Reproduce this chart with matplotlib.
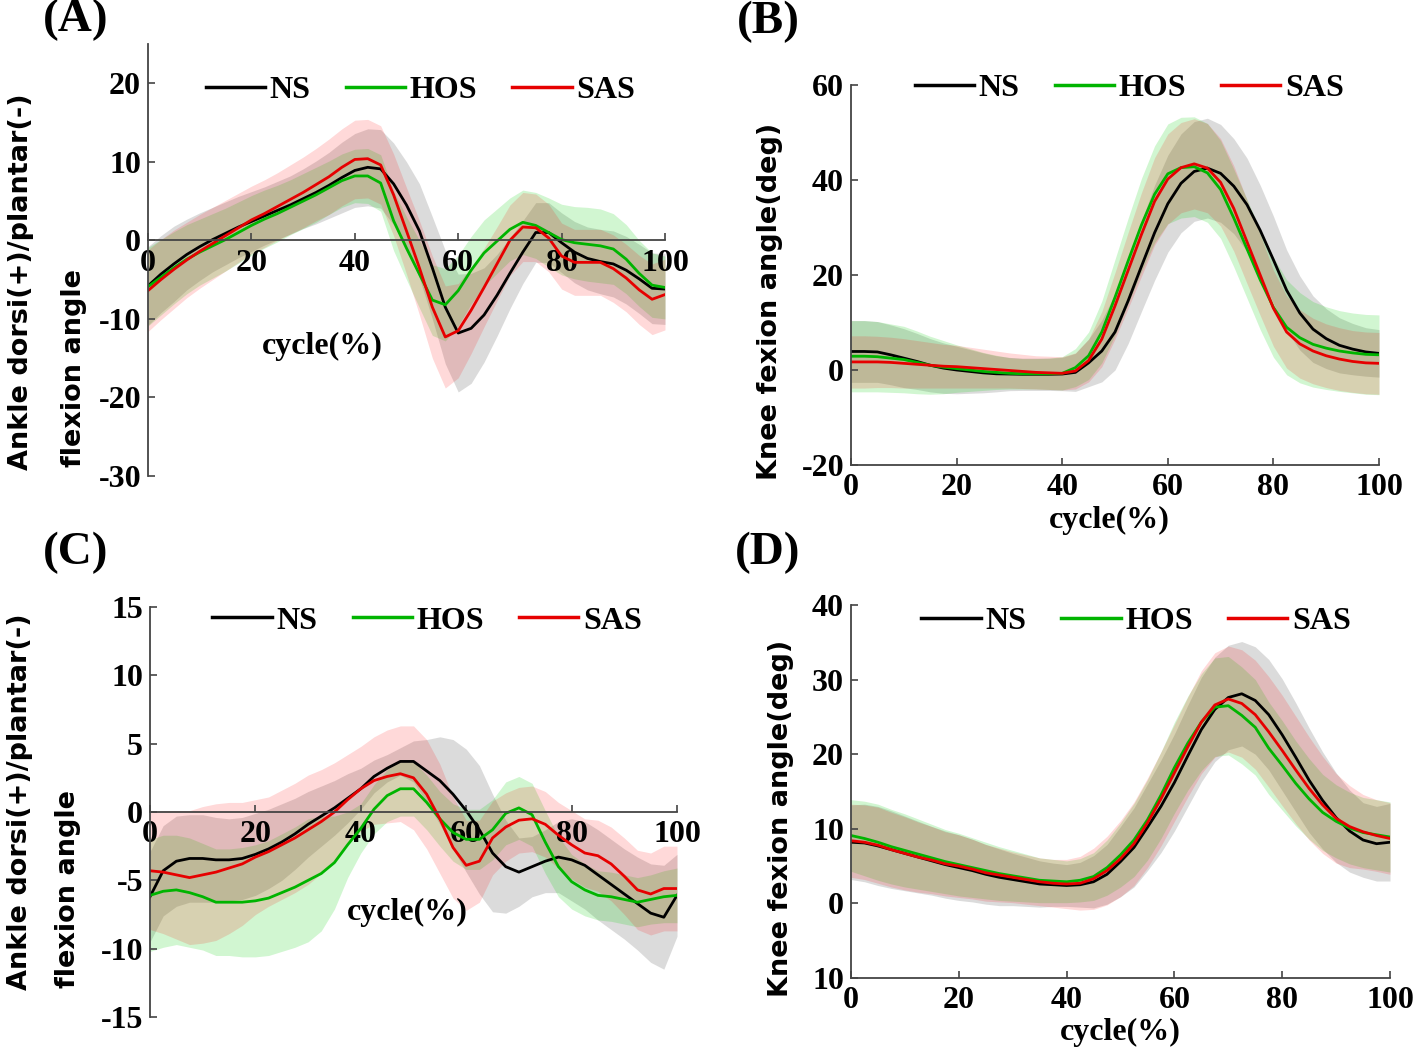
import matplotlib.pyplot as plt
import numpy as np

# gait cycle sampling (% of cycle)
cycle = np.arange(0, 100.1, 2.5)

groups = ['NS', 'HOS', 'SAS']
line_colors = ['#000000', '#00b400', '#e60000']
band_colors = ['#7f7f7f', '#00d000', '#ff0000']
band_alpha = [0.28, 0.18, 0.15]

# (A) ankle angle, mean and SD
ankle_a_ns = [-5.8, -4.3, -3.0, -1.8, -0.8, 0.1, 0.9, 1.7, 2.4, 3.1, 3.8, 4.5, 5.3, 6.1, 7.0, 8.0, 8.9, 9.3, 9.1, 7.2,
              4.5, 1.2, -3.5, -8.5, -11.8, -11.2, -9.5, -7.0, -4.2, -1.5, 1.0, 1.0, -0.3, -1.5, -2.3, -2.7, -3.0, -3.8,
              -4.9, -6.1, -6.2]
ankle_a_hos = [-5.9, -4.7, -3.5, -2.4, -1.5, -0.7, 0.1, 1.0, 1.9, 2.7, 3.4, 4.2, 5.0, 5.8, 6.7, 7.6, 8.2, 8.2, 7.3, 2.5,
               -1.0, -4.3, -7.6, -8.2, -6.4, -3.8, -1.6, -0.1, 1.4, 2.3, 1.9, 1.0, 0.1, -0.3, -0.5, -0.7, -1.1, -2.4,
               -4.2, -5.7, -6.0]
ankle_a_sas = [-6.4, -5.0, -3.7, -2.5, -1.4, -0.4, 0.6, 1.6, 2.6, 3.4, 4.3, 5.2, 6.1, 7.1, 8.1, 9.3, 10.3, 10.4, 9.6,
               5.8, 1.2, -3.5, -8.5, -12.3, -11.5, -8.9, -6.0, -3.0, 0.0, 1.7, 1.6, 0.3, -2.0, -2.8, -2.8, -2.8, -3.6,
               -4.8, -6.3, -7.5, -6.9]
ankle_a_ns_sd = [5.0, 4.9, 4.8, 4.5, 4.3, 4.1, 4.0, 3.9, 3.8, 3.7, 3.7, 3.7, 3.8, 4.0, 4.2, 4.5, 4.7, 4.9, 5.0, 5.2,
                 5.5, 6.0, 6.5, 7.2, 7.5, 7.0, 6.0, 5.2, 4.5, 4.0, 3.8, 3.8, 3.8, 3.9, 4.0, 4.1, 4.2, 4.3, 4.4, 4.5, 4.5]
ankle_a_hos_sd = [5.0, 4.8, 4.6, 4.4, 4.2, 4.1, 4.0, 3.9, 3.8, 3.7, 3.6, 3.5, 3.5, 3.5, 3.4, 3.4, 3.4, 3.5, 3.6, 3.8,
                  4.0, 4.3, 4.5, 4.6, 4.5, 4.3, 4.2, 4.1, 4.0, 4.1, 4.2, 4.4, 4.5, 4.6, 4.7, 4.7, 4.5, 4.4, 4.2, 4.1, 4.0]
ankle_a_sas_sd = [5.2, 5.1, 5.0, 4.8, 4.7, 4.6, 4.5, 4.4, 4.3, 4.3, 4.3, 4.4, 4.5, 4.6, 4.8, 4.9, 5.0, 5.0, 5.0, 5.2,
                  5.5, 6.0, 6.5, 6.5, 6.0, 5.5, 5.0, 4.7, 4.5, 4.4, 4.3, 4.3, 4.2, 4.2, 4.2, 4.2, 4.3, 4.3, 4.4, 4.5, 4.5]

# (B) knee angle
knee_b_ns = [3.9, 3.9, 3.8, 3.2, 2.5, 1.8, 1.0, 0.4, 0.0, -0.3, -0.6, -0.8, -0.85, -0.9, -0.9, -0.9, -0.85, -0.5, 1.5,
             4.0, 8.0, 14.6, 21.8, 28.9, 35.0, 39.3, 41.8, 42.5, 41.4, 38.7, 34.8, 29.4, 23.2, 16.8, 12.0, 8.6, 6.6,
             5.2, 4.4, 3.8, 3.5]
knee_b_hos = [2.9, 2.9, 2.8, 2.5, 2.2, 1.6, 1.0, 0.6, 0.3, 0.0, -0.3, -0.5, -0.7, -0.8, -0.8, -0.8, -0.7, 0.5, 3.0,
              8.0, 15.3, 23.0, 30.5, 37.0, 41.3, 42.6, 42.8, 41.5, 38.0, 32.0, 25.5, 19.0, 13.2, 9.0, 6.8, 5.4, 4.6,
              4.0, 3.6, 3.3, 3.2]
knee_b_sas = [1.7, 1.7, 1.7, 1.6, 1.4, 1.2, 1.0, 0.8, 0.7, 0.5, 0.3, 0.1, -0.1, -0.3, -0.5, -0.6, -0.7, -0.2, 2.0,
              6.5, 13.5, 21.0, 28.5, 35.5, 40.2, 42.6, 43.4, 42.5, 39.5, 34.0, 27.0, 20.0, 13.0, 8.0, 5.5, 4.0, 3.0,
              2.3, 1.8, 1.5, 1.4]
knee_b_ns_sd = [6.5, 6.5, 6.4, 6.3, 6.2, 5.9, 5.6, 5.3, 5.0, 4.6, 4.2, 3.8, 3.5, 3.4, 3.4, 3.4, 3.5, 4.0, 5.0, 6.5,
                8.0, 9.0, 9.5, 10.0, 10.2, 10.4, 10.5, 10.5, 10.3, 10.0, 9.8, 9.5, 9.2, 8.5, 7.8, 7.0, 6.3, 5.8, 5.4,
                5.1, 5.0]
knee_b_hos_sd = [7.5, 7.5, 7.4, 7.2, 7.0, 6.6, 6.1, 5.6, 5.0, 4.5, 4.0, 3.6, 3.3, 3.2, 3.2, 3.3, 3.5, 4.0, 5.0, 6.5,
                 8.0, 9.0, 9.8, 10.2, 10.5, 10.6, 10.5, 10.4, 10.3, 10.3, 10.4, 10.5, 10.5, 10.0, 9.5, 9.0, 8.7, 8.5,
                 8.4, 8.4, 8.4]
knee_b_sas_sd = [5.5, 5.5, 5.4, 5.3, 5.2, 5.0, 4.8, 4.6, 4.5, 4.3, 4.1, 3.9, 3.7, 3.6, 3.5, 3.5, 3.5, 3.8, 4.5, 5.8,
                 7.0, 8.0, 8.8, 9.2, 9.5, 9.5, 9.5, 9.4, 9.2, 9.0, 8.8, 8.5, 8.0, 7.6, 7.2, 6.9, 6.7, 6.6, 6.5, 6.5,
                 6.5]

# (C) ankle angle
ankle_c_ns = [-6.2, -4.3, -3.6, -3.4, -3.4, -3.5, -3.5, -3.4, -3.1, -2.7, -2.2, -1.6, -0.9, -0.3, 0.3, 1.0, 1.7, 2.6,
              3.2, 3.7, 3.7, 3.0, 2.3, 1.3, 0.1, -1.3, -3.0, -4.0, -4.4, -4.0, -3.6, -3.3, -3.5, -3.9, -4.6, -5.3,
              -6.0, -6.7, -7.4, -7.7, -6.1]
ankle_c_hos = [-6.1, -5.8, -5.7, -5.9, -6.2, -6.6, -6.6, -6.6, -6.5, -6.3, -5.9, -5.5, -5.0, -4.5, -3.7, -2.4, -1.2,
               0.2, 1.2, 1.7, 1.7, 0.7, -0.5, -1.5, -2.0, -2.0, -1.3, -0.1, 0.3, -0.2, -2.2, -4.0, -5.1, -5.7, -6.1,
               -6.2, -6.4, -6.6, -6.4, -6.2, -6.1]
ankle_c_sas = [-4.3, -4.4, -4.6, -4.8, -4.6, -4.4, -4.1, -3.8, -3.3, -2.9, -2.4, -1.9, -1.3, -0.7, 0.0, 0.9, 1.7, 2.3,
               2.6, 2.8, 2.5, 1.3, -0.5, -2.6, -3.9, -3.6, -1.9, -1.1, -0.6, -0.5, -0.9, -1.7, -2.4, -3.0, -3.2, -3.8,
               -4.7, -5.7, -6.0, -5.6, -5.6]
ankle_c_ns_sd = [3.3, 3.3, 3.3, 3.2, 3.2, 3.1, 3.0, 3.0, 3.0, 2.9, 2.8, 2.6, 2.4, 2.2, 2.0, 1.8, 1.5, 1.2, 1.0, 1.0,
                 1.5, 2.3, 3.2, 4.0, 4.5, 4.7, 4.3, 3.4, 2.5, 2.2, 2.3, 2.6, 3.0, 3.2, 3.3, 3.3, 3.3, 3.4, 3.6, 3.8, 3.0]
ankle_c_hos_sd = [4.1, 4.1, 4.0, 4.0, 3.9, 3.9, 3.9, 4.0, 4.1, 4.2, 4.3, 4.4, 4.5, 4.2, 3.4, 2.4, 1.8, 1.8, 1.9, 2.0,
                  2.0, 2.0, 2.0, 2.1, 2.2, 2.2, 2.2, 2.3, 2.3, 2.3, 2.3, 2.2, 2.0, 1.9, 1.8, 1.8, 1.8, 1.8, 1.8, 1.9, 2.0]
ankle_c_sas_sd = [4.3, 4.5, 4.7, 4.9, 5.0, 5.0, 4.8, 4.5, 4.2, 4.0, 4.0, 4.0, 4.0, 3.8, 3.6, 3.3, 3.1, 3.2, 3.4, 3.5,
                  3.8, 4.0, 4.0, 3.7, 3.3, 3.0, 2.7, 2.5, 2.4, 2.4, 2.4, 2.4, 2.5, 2.5, 2.6, 2.7, 2.8, 2.9, 3.0, 3.1, 3.1]

# (D) knee angle
knee_d_ns = [8.2, 8.1, 7.7, 7.2, 6.7, 6.2, 5.7, 5.2, 4.8, 4.4, 3.9, 3.5, 3.2, 2.9, 2.6, 2.5, 2.4, 2.5, 2.9, 3.9, 5.6,
             7.5, 10.2, 13.0, 16.2, 19.8, 23.3, 26.0, 27.6, 28.1, 27.2, 25.3, 22.6, 19.6, 16.5, 13.8, 11.5, 9.7, 8.5,
             8.0, 8.2]
knee_d_hos = [9.1, 8.7, 8.2, 7.6, 7.1, 6.6, 6.1, 5.6, 5.2, 4.8, 4.4, 4.0, 3.7, 3.4, 3.1, 3.0, 2.9, 3.1, 3.6, 4.8, 6.5,
              8.5, 11.2, 14.5, 18.2, 21.5, 24.3, 26.3, 26.5, 25.2, 23.6, 20.8, 18.5, 16.1, 14.0, 12.2, 11.0, 10.1, 9.5,
              9.2, 8.9]
knee_d_sas = [8.4, 8.2, 7.8, 7.2, 6.7, 6.2, 5.8, 5.3, 5.0, 4.6, 4.1, 3.8, 3.5, 3.2, 2.9, 2.7, 2.6, 2.7, 3.3, 4.4, 6.0,
              8.0, 10.8, 14.0, 17.5, 21.0, 24.3, 26.6, 27.4, 26.8, 25.3, 23.0, 20.5, 17.9, 15.4, 13.2, 11.4, 10.3, 9.6,
              9.1, 8.7]
knee_d_ns_sd = [5.0, 5.2, 5.3, 5.2, 5.0, 4.8, 4.6, 4.5, 4.4, 4.2, 4.0, 3.8, 3.5, 3.3, 3.1, 2.9, 2.8, 3.0, 3.5, 4.0,
                4.7, 5.3, 5.8, 6.2, 6.5, 6.8, 7.0, 7.0, 7.0, 7.0, 7.2, 7.4, 7.5, 7.3, 7.0, 6.5, 6.0, 5.5, 5.0, 5.0, 5.2]
knee_d_hos_sd = [4.8, 5.0, 5.1, 5.0, 4.9, 4.7, 4.5, 4.3, 4.2, 4.0, 3.8, 3.6, 3.4, 3.2, 3.0, 2.9, 2.8, 2.9, 3.2, 3.7,
                 4.3, 4.9, 5.4, 5.8, 6.1, 6.3, 6.5, 6.6, 6.6, 6.5, 6.4, 6.2, 6.0, 5.7, 5.4, 5.1, 4.9, 4.8, 4.7, 4.7, 4.7]
knee_d_sas_sd = [4.9, 5.0, 5.1, 5.0, 4.9, 4.7, 4.5, 4.3, 4.2, 4.0, 3.8, 3.6, 3.4, 3.3, 3.2, 3.2, 3.3, 3.6, 4.1, 4.6,
                 5.1, 5.6, 6.0, 6.3, 6.5, 6.7, 6.9, 7.0, 7.1, 7.2, 7.3, 7.4, 7.4, 7.2, 6.9, 6.5, 6.0, 5.5, 5.0, 4.8, 4.8]

x_ticks = [0, 20, 40, 60, 80, 100]
ankle_a_yticks = [-30, -20, -10, 0, 10, 20]
knee_b_yticks = [-20, 0, 20, 40, 60]
knee_b_yticklabels = ['-20', '0', '20', '40', '60']
ankle_c_yticks = [-15, -10, -5, 0, 5, 10, 15]
knee_d_yticks = [-10, 0, 10, 20, 30, 40]
knee_d_yticklabels = ['10', '0', '10', '20', '30', '40']

SERIF = 'Liberation Serif'
SANS = 'DejaVu Sans'
TICK_SIZE = 23
W, H = 1418, 1053


def px(x, y):
    return x / W, 1 - y / H


def draw_panel(ax, means, sds, ylim, yticks, yticklabels, zero_axis, legend_pos, xlabel_pos):
    for mean, sd, color, alpha in zip(means, sds, band_colors, band_alpha):
        mean = np.asarray(mean)
        sd = np.asarray(sd)
        ax.fill_between(cycle, mean - sd, mean + sd, color=color, alpha=alpha, linewidth=0)
    for mean, color, name in zip(means, line_colors, groups):
        ax.plot(cycle, mean, color=color, linewidth=2.0, label=name, solid_joinstyle='round')

    ax.set_xlim(0, 100)
    ax.set_ylim(*ylim)
    ax.set_xticks(x_ticks)
    ax.set_yticks(yticks)
    ax.set_yticklabels(yticklabels if yticklabels else [str(t) for t in yticks])

    for side in ('top', 'right'):
        ax.spines[side].set_visible(False)
    for side in ('left', 'bottom'):
        ax.spines[side].set_color('#444444')
        ax.spines[side].set_linewidth(1.3)
    if zero_axis:
        ax.spines['bottom'].set_position(('data', 0))

    ax.tick_params(direction='in', length=5, width=1.2, color='#444444')
    ax.tick_params(axis='x', pad=6)
    ax.tick_params(axis='y', pad=5)
    for lab in ax.get_xticklabels() + ax.get_yticklabels():
        lab.set_fontfamily(SERIF)
        lab.set_fontweight('bold')
        lab.set_fontsize(TICK_SIZE)

    leg = ax.legend(loc='center', bbox_to_anchor=legend_pos, ncol=3, frameon=False,
                    handlelength=1.85, handletextpad=0.15, columnspacing=1.1, borderpad=0,
                    prop={'family': SERIF, 'weight': 'bold', 'size': TICK_SIZE})
    for line in leg.get_lines():
        line.set_linewidth(2.5)

    ax.text(xlabel_pos[0], xlabel_pos[1], 'cycle(%)', transform=ax.transAxes, ha='center', va='center',
            fontfamily=SERIF, fontweight='bold', fontsize=TICK_SIZE)


fig = plt.figure(figsize=(W / 100, H / 100), dpi=100)

ax_a = fig.add_axes([148 / W, 1 - 476 / H, 517 / W, 432 / H])
ax_b = fig.add_axes([851 / W, 1 - 465 / H, 528 / W, 380 / H])
ax_c = fig.add_axes([150 / W, 1 - 1017 / H, 527 / W, 410 / H])
ax_d = fig.add_axes([851 / W, 1 - 978 / H, 539 / W, 373 / H])

draw_panel(ax_a, [ankle_a_ns, ankle_a_hos, ankle_a_sas], [ankle_a_ns_sd, ankle_a_hos_sd, ankle_a_sas_sd],
           (-30, 25), ankle_a_yticks, None, True, (0.527, 0.893), (0.337, 0.301))
draw_panel(ax_b, [knee_b_ns, knee_b_hos, knee_b_sas], [knee_b_ns_sd, knee_b_hos_sd, knee_b_sas_sd],
           (-20, 60), knee_b_yticks, knee_b_yticklabels, False, (0.527, 0.992), (0.49, -0.147))
draw_panel(ax_c, [ankle_c_ns, ankle_c_hos, ankle_c_sas], [ankle_c_ns_sd, ankle_c_hos_sd, ankle_c_sas_sd],
           (-15, 15), ankle_c_yticks, None, True, (0.526, 0.966), (0.488, 0.254))
draw_panel(ax_d, [knee_d_ns, knee_d_hos, knee_d_sas], [knee_d_ns_sd, knee_d_hos_sd, knee_d_sas_sd],
           (-10, 40), knee_d_yticks, knee_d_yticklabels, False, (0.529, 0.957), (0.499, -0.147))

# y axis titles
ylab = dict(rotation=90, ha='center', va='bottom', fontfamily=SANS, fontweight='bold', fontsize=19.5)
fig.text(*px(21, 470), 'Ankle dorsi(+)/plantar(-)', **ylab)
fig.text(*px(74, 467), 'flexion angle', **ylab)
fig.text(*px(20, 990), 'Ankle dorsi(+)/plantar(-)', **ylab)
fig.text(*px(68, 988), 'flexion angle', **ylab)
fig.text(*px(770, 480), 'Knee fexion angle(deg)', **ylab)
fig.text(*px(781, 997), 'Knee fexion angle(deg)', **ylab)

# panel letters
letter = dict(ha='center', va='center', fontfamily=SERIF, fontweight='bold', fontsize=34)
fig.text(*px(76, 20), '(A)', **letter)
fig.text(*px(768, 22), '(B)', **letter)
fig.text(*px(76, 553), '(C)', **letter)
fig.text(*px(768, 553), '(D)', **letter)

fig.savefig('out.png', dpi=100)
